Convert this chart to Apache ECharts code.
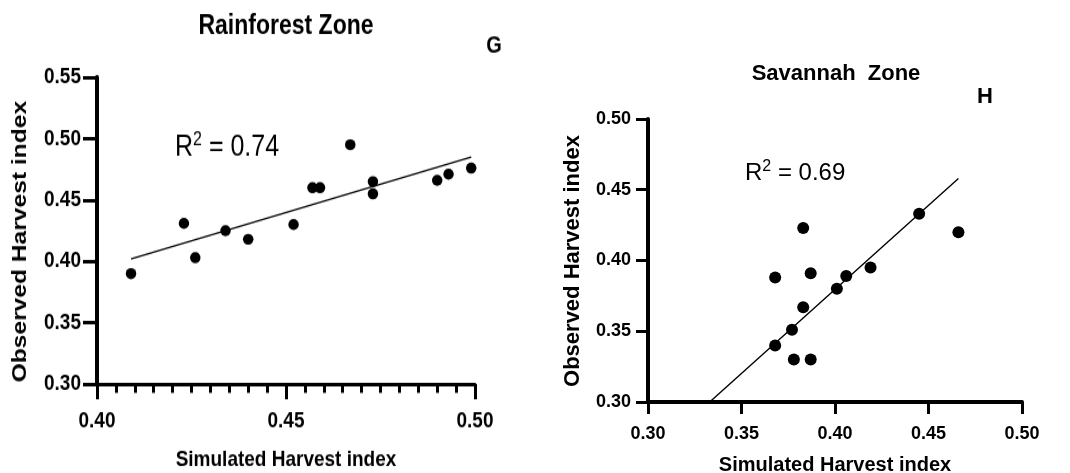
<!DOCTYPE html>
<html>
<head>
<meta charset="utf-8">
<title>Simulated vs observed harvest index</title>
<script src="https://cdn.jsdelivr.net/npm/echarts@6/dist/echarts.min.js"></script>
<style>
  html, body { margin: 0; padding: 0; background: #fff; overflow: hidden; }
  #wrap { position: relative; width: 1070px; height: 473px; overflow: hidden; background: #fff; }
  /* the rainforest panel is drawn a little taller than wide, as in the figure */
  #left { position: absolute; left: 0; top: 0; width: 520px; height: 404px;
          transform: scaleY(1.1708); transform-origin: 0 0; }
  #right { position: absolute; left: 520px; top: 0; width: 550px; height: 473px; }
</style>
</head>
<body>
<div id="wrap">
  <div id="left"></div>
  <div id="right"></div>
</div>
<script>
// Rainforest zone: simulated vs observed harvest index
const rainSimulated = [0.409, 0.423, 0.426, 0.434, 0.440, 0.452, 0.457, 0.459, 0.467, 0.473, 0.473, 0.490, 0.493, 0.499];
const rainObserved  = [0.390, 0.431, 0.403, 0.425, 0.418, 0.430, 0.460, 0.460, 0.495, 0.465, 0.455, 0.466, 0.471, 0.476];
const rainFitX = [0.409, 0.499];
const rainFitY = [0.402, 0.485];
const rainR2 = '0.74';
const rainXTicks = [0.40, 0.45, 0.50];
const rainYTicks = [0.30, 0.35, 0.40, 0.45, 0.50, 0.55];

// Savannah zone: simulated vs observed harvest index
const savSimulated = [0.368, 0.368, 0.377, 0.378, 0.383, 0.383, 0.387, 0.387, 0.401, 0.406, 0.419, 0.445, 0.466];
const savObserved  = [0.388, 0.340, 0.351, 0.330, 0.367, 0.423, 0.391, 0.330, 0.380, 0.389, 0.395, 0.433, 0.420];
const savFitX = [0.333, 0.466];
const savFitY = [0.300, 0.458];
const savR2 = '0.69';
const savXTicks = [0.30, 0.35, 0.40, 0.45, 0.50];
const savYTicks = [0.30, 0.35, 0.40, 0.45, 0.50];

const FONT = '"Liberation Sans", Arial, Helvetica, sans-serif';
const INK = '#000';

function axisFromTicks(ticks) {
  return {
    min: ticks[0],
    max: ticks[ticks.length - 1],
    interval: +(ticks[1] - ticks[0]).toFixed(4)
  };
}

function textEl(text, x, y, size, opts) {
  return Object.assign({
    type: 'text', x: x, y: y, silent: true,
    style: {
      text: text, fill: INK, fontFamily: FONT, fontSize: size, fontWeight: 'bold',
      align: 'center', verticalAlign: 'middle'
    }
  }, opts || {});
}

function r2El(value, x, y, size, supSize, lh) {
  return {
    type: 'text', x: x, y: y, silent: true,
    style: {
      text: '{r|R}{s|2}{r| = ' + value + '}',
      align: 'left', verticalAlign: 'middle',
      fill: INK, fontFamily: FONT, fontSize: size,
      rich: {
        r: { fontFamily: FONT, fontSize: size, fill: INK, lineHeight: lh },
        s: { fontFamily: FONT, fontSize: supSize, fill: INK, verticalAlign: 'top' }
      }
    }
  };
}

function buildPanel(el, p) {
  const chart = echarts.init(el, null, { renderer: 'canvas' });
  const xr = axisFromTicks(p.xTicks);
  const yr = axisFromTicks(p.yTicks);
  const labelStyle = {
    color: INK, fontFamily: FONT, fontWeight: 'bold', fontSize: p.tickFont,
    formatter: v => v.toFixed(2)
  };
  chart.setOption({
    animation: false,
    backgroundColor: '#fff',
    grid: Object.assign({ containLabel: false, outerBoundsMode: 'none' }, p.grid),
    xAxis: {
      type: 'value', min: xr.min, max: xr.max, interval: xr.interval,
      axisLine: { show: true, onZero: false, lineStyle: { color: INK, width: p.xLineW } },
      axisTick: { show: true, length: p.xTickLen, lineStyle: { color: INK, width: 3 } },
      minorTick: p.xMinor
        ? { show: true, splitNumber: 10, length: p.xMinorLen, lineStyle: { color: INK, width: 3 } }
        : { show: false },
      splitLine: { show: false },
      minorSplitLine: { show: false },
      axisLabel: Object.assign({ margin: p.xLabelMargin }, labelStyle),
      name: 'Simulated Harvest index',
      nameLocation: 'middle',
      nameGap: p.xNameGap,
      nameTextStyle: { color: INK, fontFamily: FONT, fontWeight: 'bold', fontSize: p.xNameFont }
    },
    yAxis: {
      type: 'value', min: yr.min, max: yr.max, interval: yr.interval,
      axisLine: { show: true, onZero: false, lineStyle: { color: INK, width: p.yLineW } },
      axisTick: { show: true, length: p.yTickLen, lineStyle: { color: INK, width: 3 } },
      splitLine: { show: false },
      axisLabel: Object.assign({ margin: p.yLabelMargin }, labelStyle)
    },
    graphic: p.graphic,
    series: [
      {
        type: 'line',
        data: p.fitX.map((x, i) => [x, p.fitY[i]]),
        showSymbol: false,
        symbol: 'none',
        lineStyle: { color: INK, width: 1.4 },
        silent: true,
        z: 2
      },
      {
        type: 'scatter',
        data: p.sim.map((x, i) => [x, p.obs[i]]),
        symbol: 'circle',
        symbolSize: p.dot,
        itemStyle: { color: INK, opacity: 1 },
        silent: true,
        z: 3
      }
    ]
  });
  return chart;
}

// left panel (coordinates are before the vertical stretch of 1.1708)
buildPanel(document.getElementById('left'), {
  grid: { left: 97, top: 66, width: 378, height: 262 },
  xTicks: rainXTicks, yTicks: rainYTicks,
  sim: rainSimulated, obs: rainObserved, fitX: rainFitX, fitY: rainFitY,
  dot: [10.5, 9.4],
  tickFont: 19,
  xLineW: 3.2, yLineW: 4,
  xTickLen: 13, yTickLen: 14,
  xMinor: true, xMinorLen: 7.5,
  xLabelMargin: 22, yLabelMargin: 16,
  xNameGap: 55.5, xNameFont: 19,
  graphic: [
    textEl('Rainforest Zone', 286, 23, 23),
    textEl('G', 494, 39.3, 20),
    textEl('Observed Harvest index', 20, 206.4, 21, { rotation: Math.PI / 2 }),
    r2El(rainR2, 175, 126.4, 25, 16, 29)
  ]
});

// right panel
buildPanel(document.getElementById('right'), {
  grid: { left: 128, top: 119, width: 374, height: 283 },
  xTicks: savXTicks, yTicks: savYTicks,
  sim: savSimulated, obs: savObserved, fitX: savFitX, fitY: savFitY,
  dot: 12,
  tickFont: 18,
  xLineW: 4, yLineW: 4,
  xTickLen: 12, yTickLen: 12,
  xMinor: false, xMinorLen: 0,
  xLabelMargin: 23, yLabelMargin: 17,
  xNameGap: 53, xNameFont: 20,
  graphic: [
    textEl('Savannah  Zone', 316, 74, 22),
    textEl('H', 465, 96.7, 22),
    textEl('Observed Harvest index', 53, 261, 22, { rotation: Math.PI / 2 }),
    r2El(savR2, 225, 173.7, 24, 16, 31)
  ]
});
</script>
</body>
</html>
